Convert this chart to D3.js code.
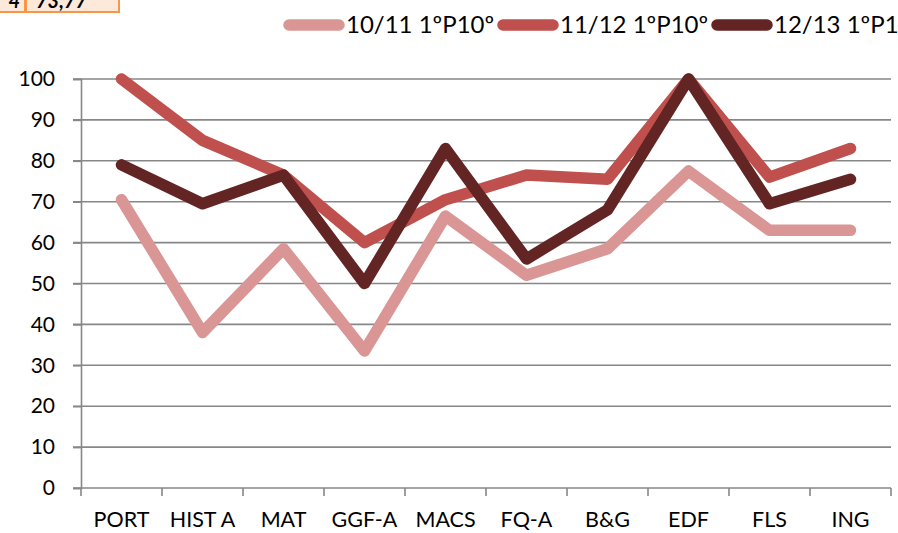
<!DOCTYPE html>
<html><head><meta charset="utf-8">
<script src="https://cdn.jsdelivr.net/npm/d3@7"></script>
<style>body{margin:0;background:#fff;overflow:hidden}svg{display:block}</style>
</head><body>
<script>
const categories = ["PORT","HIST A","MAT","GGF-A","MACS","FQ-A","B&G","EDF","FLS","ING"];
const seriesNames = ["10/11 1ºP10º","11/12 1ºP10º","12/13 1ºP10º"];
const s1011 = [70.5, 38, 58.5, 33.5, 66.5, 52, 58.5, 77.5, 63, 63];
const s1112 = [100, 85, 76.5, 60, 70.5, 76.5, 75.5, 100, 76, 83];
const s1213 = [79, 69.5, 76.5, 50, 83, 56, 68, 100, 69.5, 75.5];
const yTicks = [0,10,20,30,40,50,60,70,80,90,100];
const colors = ["#D99694","#C0504D","#632523"];
const series = [s1011, s1112, s1213];

const W = 898, H = 533;
const font = "Lato, 'Open Sans', sans-serif";
const svg = d3.select("body").append("svg").attr("width", W).attr("height", H);

// spreadsheet cell fragment at top-left
const cells = svg.append("g");
cells.append("rect").attr("x",-2).attr("y",-4).attr("width",27).attr("height",16).attr("fill","#FDE9D9").attr("stroke","#F79646").attr("stroke-width",2);
cells.append("rect").attr("x",26).attr("y",-4).attr("width",93).attr("height",16).attr("fill","#FDE9D9").attr("stroke","#F79646").attr("stroke-width",2);
cells.append("text").attr("x",20).attr("y",8).attr("text-anchor","end").attr("font-family",font).attr("font-weight","bold").attr("font-style","italic").attr("font-size",20).text("4");
cells.append("text").attr("x",36).attr("y",8).attr("font-family",font).attr("font-weight","bold").attr("font-style","italic").attr("font-size",20).text("73,77");

const x = d3.scaleBand().domain(categories).range([81, 891]);
const y = d3.scaleLinear().domain([0, 100]).range([488, 79]);

// gridlines
svg.append("g").selectAll("line").data(yTicks).join("line")
  .attr("x1", 73).attr("x2", 891)
  .attr("y1", d => y(d)).attr("y2", d => y(d))
  .attr("stroke", "#878787").attr("stroke-width", 1.6);

// y axis
const yAxis = svg.append("g").attr("transform","translate(81,0)")
  .call(d3.axisLeft(y).tickValues(yTicks).tickSize(8).tickPadding(18));
yAxis.select(".domain").attr("stroke","#878787").attr("stroke-width",1.6);
yAxis.selectAll(".tick line").attr("stroke","#878787").attr("stroke-width",1.6);
yAxis.selectAll("text").attr("font-family",font).attr("font-size",21).attr("fill","#000");

// x axis ticks at band edges
const edges = d3.range(categories.length + 1).map(i => x.range()[0] + i * x.step());
svg.append("g").selectAll("line").data(edges).join("line")
  .attr("x1", d => d).attr("x2", d => d).attr("y1", y(0)).attr("y2", y(0) + 8)
  .attr("stroke", "#878787").attr("stroke-width", 1.6);
svg.append("g").selectAll("text").data(categories).join("text")
  .attr("x", d => x(d) + x.bandwidth()/2).attr("y", 527)
  .attr("text-anchor","middle").attr("font-family",font).attr("font-size",21.5).attr("fill","#000")
  .text(d => d);

// lines
const line = d3.line().x((d,i) => x(categories[i]) + x.bandwidth()/2).y(d => y(d));
series.forEach((s, k) => {
  svg.append("path").datum(s).attr("d", line).attr("fill","none")
    .attr("stroke", colors[k]).attr("stroke-width", 11.5)
    .attr("stroke-linejoin","round").attr("stroke-linecap","round");
});

// legend
const legX = [284, 498, 712];
seriesNames.forEach((n, k) => {
  const g = svg.append("g");
  g.append("line").attr("x1", legX[k]+5).attr("x2", legX[k]+55).attr("y1", 25).attr("y2", 25)
    .attr("stroke", colors[k]).attr("stroke-width", 11.5).attr("stroke-linecap","round");
  g.append("text").attr("x", legX[k]+62).attr("y", 33).attr("font-family",font).attr("font-size",24).attr("fill","#000").text(n);
});
</script>
</body></html>
